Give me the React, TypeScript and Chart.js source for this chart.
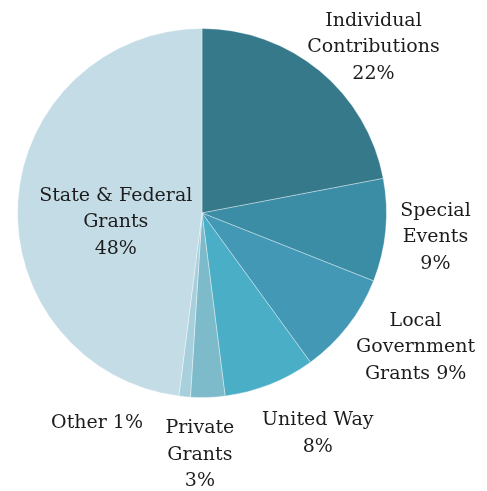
import React, { useEffect, useRef } from "react";
import { Chart, registerables } from "chart.js";

Chart.register(...registerables);

const categories: string[] = [
  "Individual\nContributions\n22%",
  "Special\nEvents\n9%",
  "Local\nGovernment\nGrants 9%",
  "United Way\n8%",
  "Private\nGrants\n3%",
  "Other 1%",
  "State & Federal\nGrants\n48%",
];
const shares: number[] = [22, 9, 9, 8, 3, 1, 48];
const colors: string[] = [
  "#35798b",
  "#3b8ca5",
  "#4399b5",
  "#4aaec6",
  "#7dbbcb",
  "#a8d0dc",
  "#c4dce6",
];
// label placement: [angle shift in degrees from slice middle, radius factor]
const labelNudge: [number, number][] = [
  [6.4, 1.292],
  [0.5, 1.272],
  [-5.6, 1.368],
  [-6.1, 1.35],
  [2.3, 1.31],
  [21.1, 1.275],
  [-9.6, 0.47],
];

const labelPlugin = {
  id: "outerLabels",
  afterDatasetsDraw(chart: any) {
    const ctx = chart.ctx;
    const meta = chart.getDatasetMeta(0);
    ctx.save();
    ctx.font = "19px 'DejaVu Serif'";
    ctx.fillStyle = "#1c1c1c";
    ctx.textAlign = "center";
    ctx.textBaseline = "middle";
    const lh = 26.5;
    meta.data.forEach((arc: any, i: number) => {
      const p = arc.getProps(["x", "y", "startAngle", "endAngle", "outerRadius"], true);
      const [shift, f] = labelNudge[i];
      const a = (p.startAngle + p.endAngle) / 2 + (shift * Math.PI) / 180;
      const R = p.outerRadius * f;
      const x = p.x + R * Math.cos(a);
      const y = p.y + R * Math.sin(a);
      const lines = categories[i].split("\n");
      const y0 = y - ((lines.length - 1) * lh) / 2;
      lines.forEach((ln, k) => ctx.fillText(ln, x, y0 + k * lh));
    });
    ctx.restore();
  },
};

export default function App() {
  const ref = useRef<HTMLCanvasElement>(null);
  useEffect(() => {
    if (!ref.current) return;
    const chart = new Chart(ref.current, {
      type: "pie",
      data: {
        labels: categories.map((c) => c.replace(/\n/g, " ")),
        datasets: [
          {
            data: shares,
            backgroundColor: colors,
            borderColor: "rgba(255,255,255,0.35)",
            borderWidth: 1,
          },
        ],
      },
      options: {
        responsive: false,
        animation: false,
        layout: { padding: { left: 17, top: 28, right: 100, bottom: 93 } },
        plugins: {
          legend: { display: false },
          tooltip: { enabled: false },
        },
      },
      plugins: [labelPlugin],
    });
    return () => chart.destroy();
  }, []);
  return (
    <div style={{ position: "fixed", left: 0, top: 0, width: 487, height: 491, background: "#fff" }}>
      <canvas ref={ref} width={487} height={491} />
    </div>
  );
}
